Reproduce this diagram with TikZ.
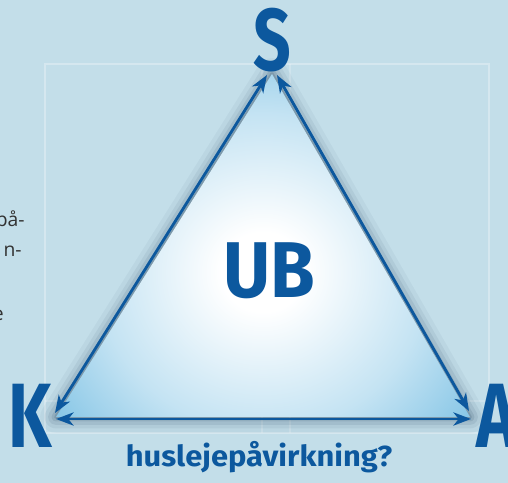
\documentclass[tikz,border=0pt]{standalone}
\usepackage{fontspec}
\setmainfont{Fira Sans}
\newfontfamily\bodyfont{Open Sans}
\usepackage{tikz}
\usetikzlibrary{arrows.meta}

\definecolor{ubblue}{RGB}{12,88,158}
\definecolor{bgblue}{RGB}{195,222,233}
\definecolor{triblue}{RGB}{124,193,228}
\definecolor{bodygray}{RGB}{50,50,50}

\pgfdeclareradialshading{trishade}{\pgfpoint{0bp}{0bp}}{%
  color(0bp)=(white); color(5bp)=(white); color(20bp)=(triblue!45!white);
  color(33bp)=(triblue); color(50bp)=(triblue)}

\begin{document}
\begin{tikzpicture}[>={Stealth[length=10pt,width=7.5pt,inset=3pt]},x=0.02cm,y=-0.02cm,thin]
                \tikzset{corner/.style={font=\bfseries\fontsize{50}{50}\selectfont, text=ubblue, inner sep=0pt, xscale=0.75}}
                \tikzset{sidetext/.style={font=\bodyfont\fontsize{11}{13}\selectfont, text=bodygray, inner sep=0pt}}
                \tikzset{arrow/.style={<->, draw=ubblue, line width=1.6pt}}
                \tikzset{faint/.style={white, opacity=0.3, line width=0.7pt}}

                % background and faint frame
                \useasboundingbox (0,0) rectangle (508,483);
                \clip (0,0) rectangle (508,483);
                \fill[bgblue] (0,0) rectangle (508,483);
                \draw[faint] (45,64) rectangle (489,433);
                \draw[faint, opacity=0.2] (262,64) -- (262,433) (290,64) -- (290,433) (45,401) -- (489,401);

                \coordinate (top) at (272,74);
                \coordinate (left) at (56,417);
                \coordinate (right) at (470,417);

                % shadow and shaded triangle
                \foreach \w/\o in {18/0.04,13/0.06,9/0.08,5/0.1,2/0.14}
                    \draw[ubblue!40!black, opacity=\o, line width=\w pt, line join=round, yshift=-0.1cm, xshift=0.06cm]
                        (top) -- (left) -- (right) -- cycle;
                \shade[shading=trishade] (top) -- (left) -- (right) -- cycle (263,470);

                \node[corner] (S) at (272,40) {S};
                \node[corner, font=\bfseries\fontsize{52}{52}\selectfont] (K) at (30,416) {K};
                \node[corner, font=\bfseries\fontsize{52}{52}\selectfont] (A) at (497,416) {A};
                \node[corner, font=\bfseries\fontsize{45}{45}\selectfont, xscale=1.22] (UB) at (269,271) {UB};
                \node[corner, font=\bfseries\fontsize{16.5}{16.5}\selectfont, xscale=1.42, anchor=base] (q) at (259,467) {huslejepåvirkning?};

                \node[sidetext, anchor=base east] (l1) at (25,227) {på-};
                \node[sidetext, anchor=base east] (l2) at (22,257) {n-};
                \node[sidetext, anchor=base east] (l3) at (4,321) {e};

                \coordinate (tl) at (267,75);
                \coordinate (tr) at (277,75);
                \coordinate (ls) at (55,413);
                \coordinate (lb) at (56,419);
                \coordinate (rs) at (469,411);
                \coordinate (rb) at (471,419);

                \path (ls) edge[arrow] (tl);
                \path (rs) edge[arrow] (tr);
                \path (lb) edge[arrow] (rb);
            \end{tikzpicture}
\end{document}
